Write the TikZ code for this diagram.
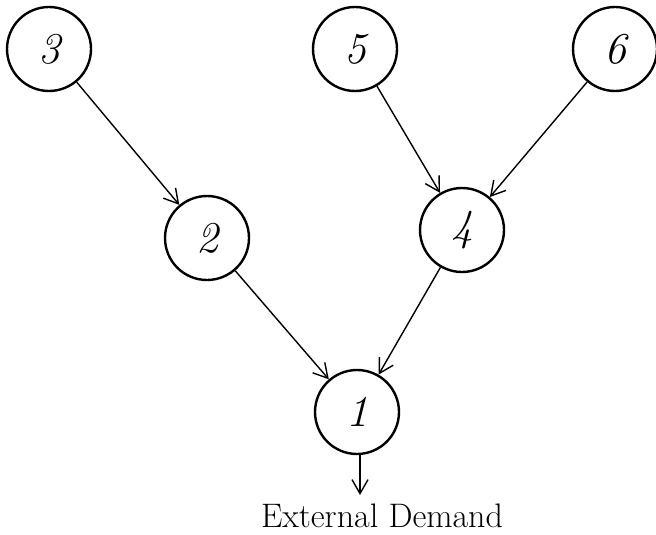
\documentclass[tikz,border=0pt]{standalone}
\usepackage{tikz}
\usetikzlibrary{
    positioning,
    arrows.meta
}
\tikzset{
    > = {Straight Barb[length=7pt, width=8pt]},
    vertex/.style = {circle, draw, line width=1.2pt, minimum size=42pt, inner sep=0pt,
                     font=\fontsize{22}{24}\selectfont\itshape},
    flow/.style = {->, line width=0.7pt},
}

\begin{document}
\begin{tikzpicture}[x=0.5pt, y=-0.5pt]
\useasboundingbox (0,0) rectangle (656,534);

\node[vertex] (v3) at (49,49) {3};
\node[vertex] (v5) at (355,49) {5};
\node[vertex] (v6) at (615,49) {6};
\node[vertex] (v2) at (207,238) {2};
\node[vertex] (v4) at (462,230) {4};
\node[vertex] (v1) at (357,412) {1};

\coordinate (out) at (360,495);
\node[anchor=base, inner sep=0pt, font=\fontsize{17}{20}\selectfont] (demand) at (382,527) {External Demand};

\draw[flow] (v3) -- (v2);
\draw[flow] (v5) -- (v4);
\draw[flow] (v6) -- (v4);
\draw[flow] (v2) -- (v1);
\draw[flow] (v4) -- (v1);
\draw[flow] (v1.south -| out) -- (out);
\end{tikzpicture}
\end{document}
